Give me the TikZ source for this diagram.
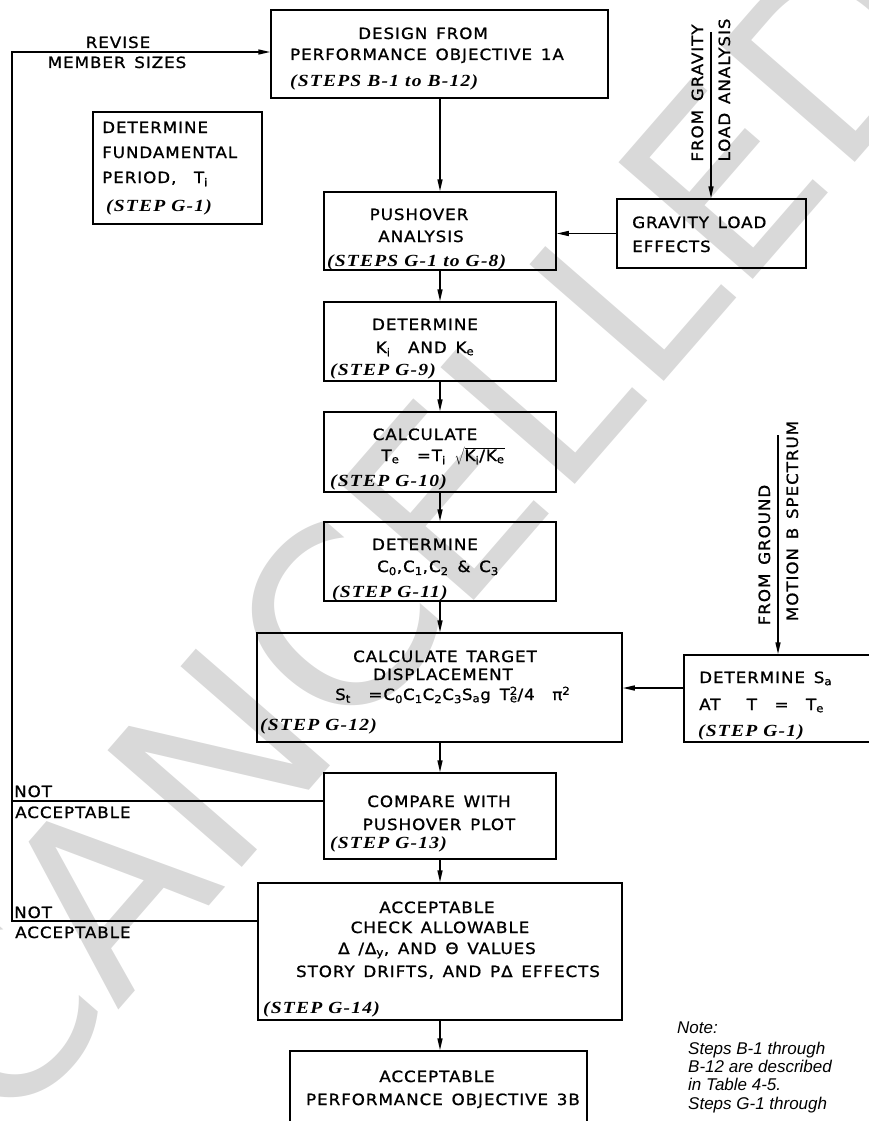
\documentclass[tikz,border=0pt]{standalone}
\usepackage{fontspec}
\usetikzlibrary{arrows.meta,fit}
\setmainfont{DejaVu Sans}
\newfontfamily\cadfont{DejaVu Sans}[LetterSpace=6,WordSpace=1.4,FakeStretch=1.08,FakeBold=1]
\newfontfamily\stepfont{Liberation Serif}[LetterSpace=7,FakeStretch=1.15]
\newfontfamily\notefont{Liberation Sans}
\newfontfamily\wmfont{DejaVu Sans}
\newcommand{\idx}[1]{\textsubscript{#1}}
\newcommand{\pw}[1]{\textsuperscript{#1}}
\tikzset{
  box/.style={draw, line width=1.5pt, inner sep=0pt},
  lbl/.style={font=\cadfont\fontsize{15.5}{18}\selectfont, inner sep=0pt, anchor=base},
  lbll/.style={lbl, anchor=base west},
  stp/.style={font=\stepfont\bfseries\itshape\fontsize{17}{18}\selectfont, inner sep=0pt, anchor=base west},
  notetxt/.style={font=\notefont\itshape\fontsize{17}{18}\selectfont, inner sep=0pt, anchor=base west},
  flow/.style={line width=1.5pt, -{Triangle[length=12pt,width=5pt]}},
  wire/.style={line width=1.5pt},
}
\begin{document}
\begin{tikzpicture}[x=1pt,y=-1pt]
\useasboundingbox (0,0) rectangle (869,1121);
\clip (0,0) rectangle (869,1121);

% watermark stamp behind the chart
\node[rotate=49, font=\wmfont\fontsize{244}{244}\selectfont, text=black!15, inner sep=0pt] (stamp) at (417,531) {CANCELLED};

% boxes
\node[box, fit={(271,10)(608,98)}] (top) {};
\node[box, fit={(93,112)(262,224)}] (fund) {};
\node[box, fit={(324,192)(556,270)}] (push) {};
\node[box, fit={(617,199)(806,268)}] (grav) {};
\node[box, fit={(324,302)(556,381)}] (kbox) {};
\node[box, fit={(324,412)(556,492)}] (calc) {};
\node[box, fit={(324,522)(556,601)}] (cbox) {};
\node[box, fit={(257,633)(622,742)}] (target) {};
\node[box, fit={(684,655)(900,742)}] (sabox) {};
\node[box, fit={(324,773)(556,859)}] (compare) {};
\node[box, fit={(258,883)(622,1020)}] (check) {};
\node[box, fit={(290,1051)(587,1140)}] (final) {};

% texts in the boxes
\node[lbl] (t1) at (423,39) {DESIGN FROM};
\node[lbl] (t2) at (427,60) {PERFORMANCE OBJECTIVE 1A};
\node[stp] (t3) at (290,87) {(STEPS B-1 to B-12)};

\node[lbll] (f1) at (102,133) {DETERMINE};
\node[lbll] (f2) at (102,158) {FUNDAMENTAL};
\node[lbll] (f3) at (102,183) {PERIOD,~ T\idx{i}};
\node[stp] (f4) at (106,211) {(STEP G-1)};

\node[lbl] (p1) at (419,220) {PUSHOVER};
\node[lbl] (p2) at (421,242) {ANALYSIS};
\node[stp] (p3) at (327,266) {(STEPS G-1 to G-8)};

\node[lbll] (g1) at (632,228) {GRAVITY LOAD};
\node[lbll] (g2) at (632,252) {EFFECTS};
\node[lbl, rotate=90] (g3) at (703,93) {FROM GRAVITY};
\node[lbl, rotate=90] (g4) at (730,90) {LOAD ANALYSIS};

\node[lbl] (k1) at (425,330) {DETERMINE};
\node[lbl] (k2) at (425,353) {K\idx{i}~ AND K\idx{e}};
\node[stp] (k3) at (330,375) {(STEP G-9)};

\node[lbl] (c1) at (425,440) {CALCULATE};
\node[lbl] (c2) at (443,461) {T\idx{e}~ =T\idx{i} $\sqrt{\hbox{K\idx{i}/K\idx{e}}}$};
\node[stp] (c3) at (330,486) {(STEP G-10)};

\node[lbl] (d1) at (425,550) {DETERMINE};
\node[lbl] (d2) at (438,572) {C\idx{0},C\idx{1},C\idx{2} \& C\idx{3}};
\node[stp] (d3) at (332,597) {(STEP G-11)};

\node[lbl] (e1) at (445,662) {CALCULATE TARGET};
\node[lbl] (e2) at (443,680) {DISPLACEMENT};
\node[lbll] (e3) at (335,700) {S\idx{t}~ =C\idx{0}C\idx{1}C\idx{2}C\idx{3}S\idx{a}g T\rlap{\pw{2}}\idx{e}/4~ π\pw{2}};
\node[stp] (e4) at (260,730) {(STEP G-12)};

\node[lbll] (s1) at (699,683) {DETERMINE S\idx{a}};
\node[lbll] (s2) at (699,710) {AT~~ T~ =~ T\idx{e}};
\node[stp] (s3) at (698,736) {(STEP G-1)};
\node[lbl, rotate=90] (s4) at (770,555) {FROM GROUND};
\node[lbl, rotate=90] (s5) at (798,521) {MOTION B SPECTRUM};

\node[lbl] (m1) at (439,807) {COMPARE WITH};
\node[lbl] (m2) at (439,830) {PUSHOVER PLOT};
\node[stp] (m3) at (330,848) {(STEP G-13)};

\node[lbl] (h1) at (437,913) {ACCEPTABLE};
\node[lbl] (h2) at (440,933) {CHECK ALLOWABLE};
\node[lbl] (h3) at (437,954) {Δ /Δ\idx{y}, AND Θ VALUES};
\node[lbl] (h4) at (448,977) {STORY DRIFTS, AND PΔ EFFECTS};
\node[stp] (h5) at (263,1013) {(STEP G-14)};

\node[lbl] (z1) at (437,1082) {ACCEPTABLE};
\node[lbl] (z2) at (443,1105) {PERFORMANCE OBJECTIVE 3B};

% loop labels
\node[lbl] (r1) at (118,48) {REVISE};
\node[lbl] (r2) at (117,68) {MEMBER SIZES};
\node[lbll] (n1) at (14,797) {NOT};
\node[lbll] (n2) at (15,818) {ACCEPTABLE};
\node[lbll] (n3) at (14,918) {NOT};
\node[lbll] (n4) at (15,938) {ACCEPTABLE};

% note
\node[notetxt] (o1) at (677,1033) {Note:};
\node[notetxt] (o2) at (688,1054) {Steps B-1 through};
\node[notetxt] (o3) at (688,1072) {B-12 are described};
\node[notetxt] (o4) at (688,1090) {in Table 4-5.};
\node[notetxt] (o5) at (688,1109) {Steps G-1 through};

% connector end points
\coordinate (gsrc) at (711,32);
\coordinate (msrc) at (778,435);
\coordinate (sarow) at (650,688);
\coordinate (lt) at (12,52);
\coordinate (ln) at (12,801);
\coordinate (lb) at (12,921);

% main chain
\draw[flow] (push.north |- top.south) -- (push.north);
\draw[flow] (push.south) -- (kbox.north);
\draw[flow] (kbox.south) -- (calc.north);
\draw[flow] (calc.south) -- (cbox.north);
\draw[flow] (cbox.south) -- (cbox.south |- target.north);
\draw[flow] (cbox.south |- target.south) -- (compare.north);
\draw[flow] (compare.south) -- (check.north);
\draw[flow] (check.south) -- (check.south |- final.north);

% side inputs
\draw[flow] (gsrc) -- (gsrc |- grav.north);
\draw[flow] (grav.west) -- (push.east |- grav.west);
\draw[flow] (msrc) -- (msrc |- sabox.north);
\draw[flow] (sabox.west |- sarow) -- (target.east |- sarow);

% revision loop
\draw[flow] (lb -| check.west) -- (lb) -- (lt) -- (lt -| top.west);
\draw[wire] (ln -| compare.west) -- (ln);
\end{tikzpicture}
\end{document}
